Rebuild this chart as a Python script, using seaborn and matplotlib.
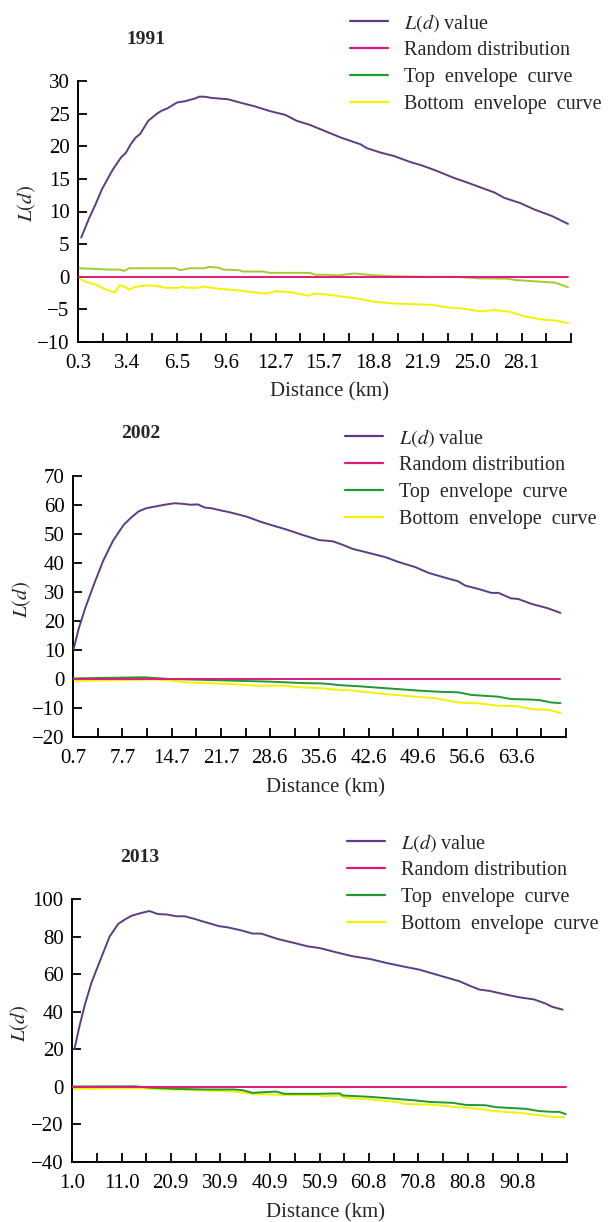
import numpy as np
import pandas as pd
import matplotlib
matplotlib.use("Agg")
import matplotlib.pyplot as plt
from matplotlib.lines import Line2D
import seaborn as sns

# L(d) function of the settlements, three years
# values

# ---- 1991 ----
ld_x_1991 = [0.5, 1.0, 1.4, 1.8, 2.2, 2.5, 3.0, 3.3, 3.6, 3.9, 4.2, 4.7, 5.2, 5.5, 5.9,
             6.5, 7.0, 7.6, 7.9, 8.2, 8.7, 9.7, 10.6, 11.4, 12.3, 13.3, 14.0, 14.8, 15.6,
             16.8, 18.0, 18.4, 19.3, 20.1, 21.1, 21.8, 22.7, 23.9, 24.4, 25.4, 26.4, 27.0,
             28.0, 28.9, 30.0, 31.0]
ld_1991 = [6.0, 9.0, 11.1, 13.4, 15.2, 16.5, 18.3, 19.0, 20.3, 21.3, 21.9, 23.9, 24.9, 25.4,
           25.8, 26.7, 26.9, 27.3, 27.6, 27.6, 27.4, 27.2, 26.6, 26.1, 25.4, 24.8, 23.9, 23.3,
           22.5, 21.3, 20.3, 19.7, 19.0, 18.5, 17.6, 17.1, 16.3, 15.1, 14.7, 13.8, 12.9, 12.1,
           11.3, 10.3, 9.3, 8.1]
top_x_1991 = [0.4, 2.2, 2.9, 3.2, 3.5, 6.4, 6.7, 7.3, 8.2, 8.5, 9.1, 9.4, 10.4, 10.6, 11.9,
              12.3, 14.8, 15.2, 16.0, 16.6, 17.6, 18.7, 19.9, 21.8, 23.9, 25.4, 27.2, 27.7,
              28.9, 30.2, 31.0]
top_1991 = [1.3, 1.1, 1.1, 0.9, 1.3, 1.3, 1.0, 1.3, 1.3, 1.5, 1.4, 1.1, 1.0, 0.8, 0.8,
            0.6, 0.6, 0.3, 0.3, 0.2, 0.5, 0.25, 0.1, 0.0, 0.0, -0.25, -0.3, -0.5,
            -0.7, -0.9, -1.6]
bot_x_1991 = [0.4, 0.8, 1.4, 1.8, 2.2, 2.6, 2.9, 3.3, 3.5, 3.8, 4.6, 5.2, 5.8, 6.6, 6.8,
              7.1, 7.8, 8.1, 9.3, 10.0, 11.0, 12.1, 12.7, 13.7, 14.7, 15.1, 15.8, 16.1,
              18.0, 18.7, 20.1, 22.4, 23.5, 24.5, 25.5, 26.4, 27.4, 28.3, 29.5, 30.2, 31.0]
bot_1991 = [-0.3, -0.8, -1.2, -1.7, -2.1, -2.4, -1.3, -1.6, -2.0, -1.6, -1.3, -1.4, -1.7,
            -1.7, -1.5, -1.7, -1.7, -1.5, -1.9, -2.0, -2.3, -2.6, -2.2, -2.4, -2.9, -2.6,
            -2.7, -2.8, -3.4, -3.8, -4.1, -4.3, -4.7, -4.9, -5.3, -5.1, -5.4, -6.1, -6.6,
            -6.7, -7.1]
rnd_x_1991 = [0.3, 31.0]
xlab_1991 = ["0.3", "3.4", "6.5", "9.6", "12.7", "15.7", "18.8", "21.9", "25.0", "28.1"]

# ---- 2002 ----
ld_x_2002 = [0.8, 1.5, 2.4, 3.6, 5.0, 6.4, 7.9, 9.0, 10.0, 11.1, 12.6, 13.7, 15.1, 16.3,
             17.3, 18.4, 19.4, 20.3, 21.5, 22.9, 25.3, 27.1, 28.5, 30.9, 33.2, 35.6, 37.5,
             38.9, 40.3, 42.6, 45.0, 46.9, 49.2, 51.1, 53.5, 55.3, 56.3, 58.1, 60.0, 61.0,
             62.8, 63.8, 65.7, 68.0, 69.8]
ld_2002 = [10.4, 17.3, 24.2, 32.2, 40.9, 47.8, 53.2, 55.8, 57.8, 58.9, 59.6, 60.1, 60.6, 60.4,
           60.1, 60.2, 59.1, 58.9, 58.2, 57.5, 56.0, 54.4, 53.3, 51.6, 49.7, 47.9, 47.5,
           46.3, 44.9, 43.5, 42.0, 40.3, 38.6, 36.6, 34.9, 33.7, 32.2, 31.1, 29.7, 29.7,
           27.8, 27.6, 25.9, 24.4, 22.8]
top_x_2002 = [0.7, 10.7, 14.4, 19.1, 23.8, 28.5, 33.2, 35.6, 37.0, 38.4, 41.2, 44.0, 46.9,
              49.7, 52.5, 55.3, 57.2, 61.0, 62.8, 65.7, 66.9, 68.5, 69.8]
top_2002 = [0.2, 0.6, 0.0, -0.3, -0.6, -0.9, -1.4, -1.5, -1.7, -2.1, -2.5, -3.0, -3.5,
            -4.0, -4.4, -4.6, -5.5, -6.1, -6.9, -7.1, -7.3, -8.1, -8.3]
bot_x_2002 = [0.7, 5.0, 12.1, 14.4, 16.8, 22.9, 26.6, 30.4, 33.2, 35.6, 37.0, 40.3, 45.0,
              49.7, 52.0, 55.3, 58.1, 61.0, 63.8, 65.7, 68.0, 69.8]
bot_2002 = [-0.7, -0.5, -0.2, -0.5, -1.2, -1.7, -2.3, -2.3, -2.9, -3.1, -3.5, -4.0, -5.2,
            -6.2, -6.6, -8.1, -8.4, -9.2, -9.4, -10.4, -10.6, -11.7]
rnd_x_2002 = [0.7, 69.8]
xlab_2002 = ["0.7", "7.7", "14.7", "21.7", "28.6", "35.6", "42.6", "49.6", "56.6", "63.6"]

# ---- 2013 ----
ld_x_2013 = [1.5, 2.5, 3.6, 4.9, 6.6, 8.6, 10.3, 11.6, 13.0, 15.0, 16.6, 18.3, 20.3, 22.0,
             23.7, 25.7, 27.7, 30.7, 32.4, 35.1, 37.4, 39.1, 42.5, 45.8, 48.5, 50.9, 54.3,
             57.6, 61.0, 64.3, 68.3, 71.0, 74.4, 79.1, 81.1, 83.1, 85.1, 88.5, 91.1, 94.2,
             96.5, 97.8, 99.9]
ld_2013 = [20.2, 32.3, 43.8, 55.3, 66.8, 80.1, 86.7, 89.0, 91.1, 92.6, 93.6, 92.0, 91.7,
           90.8, 90.8, 89.4, 87.8, 85.5, 84.9, 83.3, 81.6, 81.6, 78.7, 76.6, 74.8, 73.9,
           71.6, 69.5, 68.1, 66.0, 63.8, 62.4, 59.8, 56.2, 53.9, 51.8, 51.1, 49.1, 47.7,
           46.5, 44.3, 42.6, 41.1]
top_x_2013 = [1.0, 13.6, 17.0, 22.3, 28.4, 33.8, 35.4, 37.4, 42.1, 43.8, 50.5, 54.9, 55.6,
              61.0, 66.3, 69.7, 73.0, 77.7, 80.4, 84.4, 86.4, 92.5, 95.2, 97.8, 99.2, 100.5]
top_2013 = [0.2, 0.3, -0.5, -1.1, -1.4, -1.4, -1.8, -3.2, -2.5, -3.7, -3.7, -3.5, -4.6,
            -5.3, -6.4, -7.1, -8.0, -8.5, -9.6, -9.8, -10.8, -11.7, -12.9, -13.3, -13.3, -14.5]
bot_x_2013 = [1.0, 13.6, 20.3, 27.0, 33.8, 37.8, 43.8, 50.5, 51.9, 54.9, 56.3, 61.0, 67.0,
              67.7, 74.4, 77.7, 83.1, 85.8, 91.1, 95.2, 97.8, 100.2]
bot_2013 = [-1.1, -0.7, -1.4, -1.8, -2.5, -3.9, -4.3, -4.4, -5.0, -4.6, -5.9, -6.7, -8.2,
            -9.0, -9.6, -10.6, -11.7, -12.9, -13.8, -15.1, -16.0, -16.1]
rnd_x_2013 = [1.0, 100.5]
xlab_2013 = ["1.0", "11.0", "20.9", "30.9", "40.9", "50.9", "60.8", "70.8", "80.8", "90.8"]

series_names = ["$L(d)$ value", "Random distribution", "Top  envelope  curve",
                "Bottom  envelope  curve"]

PURPLE = "#5c3d84"
PINK = "#e0187a"
GREEN = "#1e9a30"
YELLOW = "#f4f200"
LIME = "#a4cc2e"

sns.set_style("ticks")
plt.rcParams["font.family"] = ["Liberation Serif", "DejaVu Serif"]
plt.rcParams["mathtext.fontset"] = "stix"

W, H = 615, 1222
fig = plt.figure(figsize=(W / 100, H / 100), dpi=100)


def fx(px):
    return px / W


def fy(py):
    return 1 - py / H


panels = [
    dict(year="1991", ld=(ld_x_1991, ld_1991), top=(top_x_1991, top_1991),
         bot=(bot_x_1991, bot_1991), rnd=rnd_x_1991, xlab=xlab_1991, top_color=LIME,
         box=(78, 81, 571, 342), ylim=(-10, 30), ystep=5,
         title=(146, 39), ylab=(27, 203), xlabel=(330, 392), legend=(350, 12)),
    dict(year="2002", ld=(ld_x_2002, ld_2002), top=(top_x_2002, top_2002),
         bot=(bot_x_2002, bot_2002), rnd=rnd_x_2002, xlab=xlab_2002, top_color=GREEN,
         box=(73, 476, 566, 737), ylim=(-20, 70), ystep=10,
         title=(141, 434), ylab=(22, 599), xlabel=(325, 788), legend=(345, 427)),
    dict(year="2013", ld=(ld_x_2013, ld_2013), top=(top_x_2013, top_2013),
         bot=(bot_x_2013, bot_2013), rnd=rnd_x_2013, xlab=xlab_2013, top_color=GREEN,
         box=(72, 899, 567, 1162), ylim=(-40, 100), ystep=20,
         title=(140, 857), ylab=(20, 1023), xlabel=(325, 1213), legend=(347, 832)),
]

for p in panels:
    l, t, r, b = p["box"]
    ax = fig.add_axes([fx(l), fy(b), (r - l) / W, (b - t) / H])

    ld = pd.DataFrame({"x": p["ld"][0], "y": p["ld"][1]})
    top = pd.DataFrame({"x": p["top"][0], "y": p["top"][1]})
    bot = pd.DataFrame({"x": p["bot"][0], "y": p["bot"][1]})
    rnd = pd.DataFrame({"x": p["rnd"], "y": [0.0] * len(p["rnd"])})

    sns.lineplot(data=ld, x="x", y="y", ax=ax, color=PURPLE, linewidth=1.4,
                 estimator=None, sort=False, zorder=4)
    sns.lineplot(data=bot, x="x", y="y", ax=ax, color=YELLOW, linewidth=1.4,
                 estimator=None, sort=False, zorder=2)
    sns.lineplot(data=top, x="x", y="y", ax=ax, color=p["top_color"], linewidth=1.4,
                 estimator=None, sort=False, zorder=3)
    sns.lineplot(data=rnd, x="x", y="y", ax=ax, color=PINK, linewidth=1.4,
                 estimator=None, sort=False, zorder=3)

    # axis style: left and bottom spines, inward ticks
    sns.despine(ax=ax)
    for s in ["left", "bottom"]:
        ax.spines[s].set_linewidth(1.4)
        ax.spines[s].set_color("black")

    ymin, ymax = p["ylim"]
    ax.set_ylim(ymin, ymax)
    ax.set_yticks(np.arange(ymin, ymax + 1, p["ystep"]))

    labs = p["xlab"]
    first = float(labs[0])
    step = (float(labs[-1]) - first) / (len(labs) - 1)
    ax.set_xlim(first, first + len(labs) * step)
    ax.set_xticks([float(s) for s in labs])
    ax.set_xticklabels(labs)
    ax.set_xticks([first + (k + 0.5) * step for k in range(len(labs))] +
                  [first + len(labs) * step], minor=True)

    ax.tick_params(axis="both", which="both", direction="in", length=6.5, width=1.3,
                   color="black", labelsize=15, labelcolor="black")
    ax.tick_params(axis="x", pad=8.5)
    ax.tick_params(axis="y", pad=6)
    ax.set_xlabel("")
    ax.set_ylabel("")

    fig.text(fx(p["title"][0]), fy(p["title"][1]), p["year"], fontsize=14,
             fontweight="bold", ha="center", va="center")
    fig.text(fx(p["ylab"][0]), fy(p["ylab"][1]), "$L(d)$", fontsize=15, rotation=90,
             ha="center", va="center")
    fig.text(fx(p["xlabel"][0]), fy(p["xlabel"][1]), "Distance (km)", fontsize=15,
             ha="center", va="center")

    # legend keys always use the base colours
    handles = [Line2D([], [], color=c, linewidth=1.6) for c in [PURPLE, PINK, GREEN, YELLOW]]
    ax.legend(handles, series_names, loc="upper left",
              bbox_to_anchor=(fx(p["legend"][0]), fy(p["legend"][1])),
              bbox_transform=fig.transFigure, frameon=False, fontsize=14.5,
              handlelength=1.9, handletextpad=0.8, labelspacing=0.37,
              borderpad=0, borderaxespad=0)

fig.savefig("out.png", dpi=100)
